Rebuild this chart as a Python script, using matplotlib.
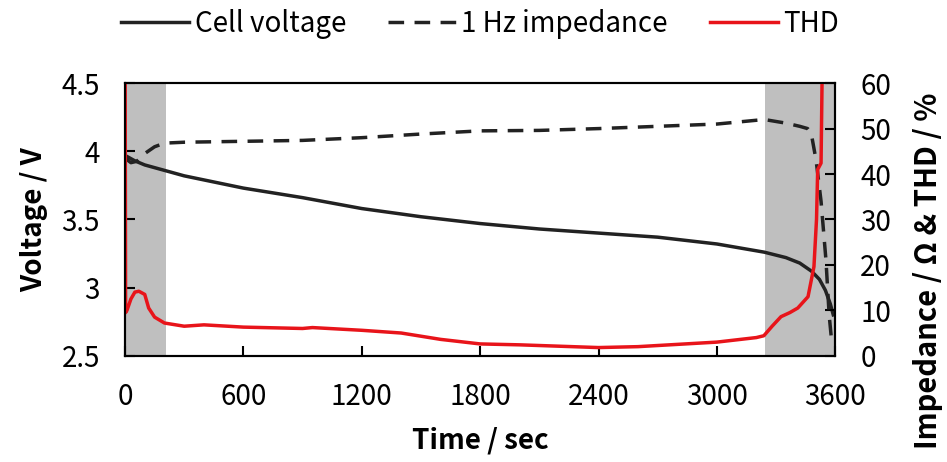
import matplotlib.pyplot as plt

plt.rcParams['font.family'] = ['Noto Sans CJK KR', 'DejaVu Sans']

# Cell voltage (V)
t_volt = [0, 50, 100, 200, 300, 400, 600, 900, 1200, 1500, 1800, 2100, 2400, 2700,
          3000, 3240, 3350, 3420, 3480, 3520, 3550, 3575, 3590]
volt = [3.97, 3.93, 3.90, 3.86, 3.82, 3.79, 3.73, 3.66, 3.58, 3.52, 3.47, 3.43, 3.40,
        3.37, 3.32, 3.26, 3.22, 3.18, 3.12, 3.06, 2.98, 2.88, 2.80]

# 1 Hz impedance (Ohm)
t_imp = [0, 30, 60, 100, 150, 200, 300, 600, 900, 1200, 1500, 1800, 2100, 2400, 2700,
         3000, 3240, 3350, 3420, 3460, 3478, 3503, 3528, 3553, 3569, 3580]
imp = [43.5, 42.5, 42.8, 44.5, 46.0, 46.8, 47.0, 47.2, 47.4, 48.0, 48.8, 49.5, 49.6,
       50.0, 50.5, 51.0, 52.0, 51.2, 50.5, 50.0, 49.0, 43.0, 34.0, 21.0, 9.0, 4.0]

# THD (%)
t_thd = [0, 3, 10, 30, 50, 70, 100, 120, 150, 200, 300, 400, 600, 900, 950, 1200, 1400,
         1600, 1800, 2000, 2400, 2600, 3000, 3200, 3238, 3280, 3325, 3370, 3410, 3462,
         3492, 3505, 3511, 3528, 3533, 3545]
thd = [80, 9.5, 10, 12.5, 14, 14.2, 13.5, 10.5, 8.5, 7.2, 6.5, 6.8, 6.3, 6.0, 6.2, 5.6,
       5.0, 3.6, 2.6, 2.4, 1.8, 2.0, 3.0, 4.0, 4.4, 6.5, 8.6, 9.5, 10.5, 13.0,
       19.6, 30.0, 41.0, 42.4, 60.0, 80.0]

shade_spans = [(0, 208), (3243, 3600)]

fig, ax = plt.subplots(figsize=(9.47, 4.62), dpi=100)
ax2 = ax.twinx()
fig.subplots_adjust(left=0.132, right=0.882, bottom=0.23, top=0.82)

for a, b in shade_spans:
    ax.axvspan(a, b, color='#bfbfbf', lw=0, zorder=0)

l1, = ax.plot(t_volt, volt, color='#222222', lw=2.5, label='Cell voltage', zorder=3)
l2, = ax2.plot(t_imp, imp, color='#222222', lw=2.5, ls=(0, (4.5, 3)), label='1 Hz impedance')
l3, = ax2.plot(t_thd, thd, color='#e8141a', lw=2.5, label='THD')

ax.set_xlim(0, 3600)
ax.set_ylim(2.5, 4.5)
ax2.set_ylim(0, 60)
ax.set_xticks([0, 600, 1200, 1800, 2400, 3000, 3600])
ax.set_yticks([2.5, 3, 3.5, 4, 4.5])
ax.set_yticklabels(['2.5', '3', '3.5', '4', '4.5'])
ax2.set_yticks([0, 10, 20, 30, 40, 50, 60])

for a in (ax, ax2):
    a.tick_params(direction='in', length=7, width=1.5, labelsize=20, pad=18)
    for s in a.spines.values():
        s.set_linewidth(1.5)
ax.tick_params(axis='x', pad=19)

ax.set_xlabel('Time / sec', fontsize=20, fontweight='bold', labelpad=10)
ax.set_ylabel('Voltage / V', fontsize=20, fontweight='bold', labelpad=10)
ax2.set_ylabel('Impedance / Ω & THD / %', fontsize=21, fontweight='bold',
               va='center', ha='center')
ax2.yaxis.set_label_coords(1.13, 0.31)

ax2.set_zorder(ax.get_zorder() + 1)
ax2.patch.set_visible(False)

fig.legend(handles=[l1, l2, l3], loc='upper center', bbox_to_anchor=(0.507, 1.035),
           ncol=3, frameon=False, fontsize=20, handlelength=2.45, handletextpad=0.2,
           columnspacing=1.5)

fig.savefig('out.png', dpi=100)
